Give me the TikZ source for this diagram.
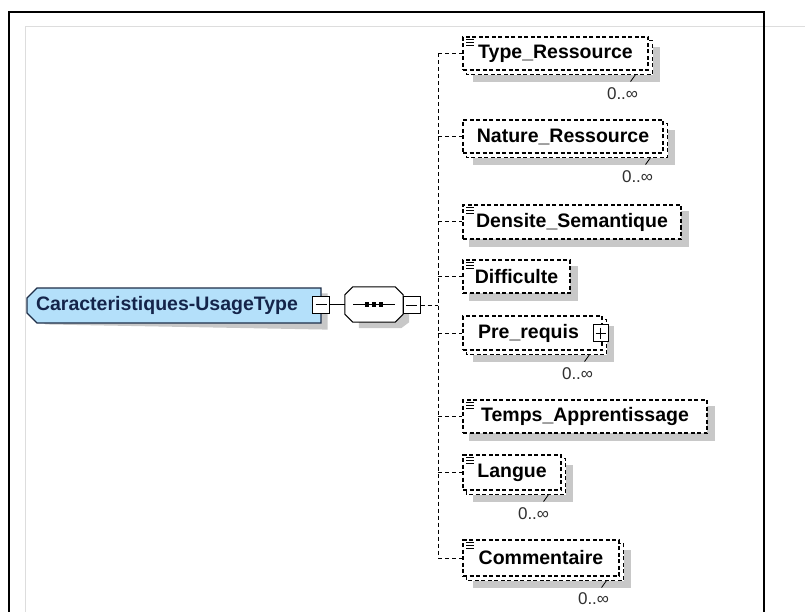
\documentclass[tikz,border=0pt]{standalone}
\usepackage{fontspec}
\setmainfont{Liberation Sans}
\usetikzlibrary{shapes.misc}
\pgfdeclarelayer{bg}
\pgfsetlayers{bg,main}
\definecolor{shadowgray}{HTML}{C8C8C8}
\definecolor{rootfill}{HTML}{B4E0FA}
\definecolor{rootline}{HTML}{1E2E48}
\definecolor{roottext}{HTML}{14244A}
\definecolor{framegray}{HTML}{DDDDDD}
\definecolor{occtext}{HTML}{303030}
\newcommand\xsdicon[1]{%
  \foreach \dd in {2.5,5.5,8.5}{\draw[line width=0.8pt] ([xshift=4pt,yshift=-\dd pt]#1.north west) -- ([xshift=12pt,yshift=-\dd pt]#1.north west);}}
\newcommand\xsdstack[1]{%
  \begin{pgfonlayer}{bg}
  \fill[shadowgray] ([xshift=11pt,yshift=-11pt]#1.north west) rectangle ([xshift=11pt,yshift=-11pt]#1.south east);
  \draw[backbox] ([xshift=4pt,yshift=-4pt]#1.north west) rectangle ([xshift=4pt,yshift=-4pt]#1.south east);
  \end{pgfonlayer}
  \draw[line width=0.8pt] ([xshift=-13pt,yshift=-4pt]#1.south east) -- ([xshift=-18pt,yshift=-11pt]#1.south east);}
\newcommand\xsdshadow[1]{%
  \begin{pgfonlayer}{bg}
  \fill[shadowgray] ([xshift=7pt,yshift=-7pt]#1.north west) rectangle ([xshift=7pt,yshift=-7pt]#1.south east);
  \end{pgfonlayer}}
\begin{document}
\begin{tikzpicture}[x=1pt,y=-1pt,
  elem/.style={draw=black, fill=white, line width=1.1pt, dash pattern=on 4pt off 2.5pt, inner sep=0pt, minimum height=33pt, font=\fontsize{19.5}{21}\selectfont\bfseries, text=black},
  backbox/.style={draw=black, fill=white, line width=1.1pt, dash pattern=on 4pt off 2.5pt},
  branch/.style={draw=black, line width=1pt, dash pattern=on 4pt off 3pt},
  occ/.style={font=\fontsize{17}{18}\selectfont, text=occtext, inner sep=0pt},
  ctrlbox/.style={draw=black, fill=white, line width=1pt, minimum width=17pt, minimum height=17pt, inner sep=0pt},
  minusmark/.style={path picture={\draw[line width=1pt] ([xshift=3pt]path picture bounding box.west) -- ([xshift=-3pt]path picture bounding box.east);}},
  plusmark/.style={path picture={\draw[line width=1pt] ([xshift=2.5pt]path picture bounding box.west) -- ([xshift=-2.5pt]path picture bounding box.east);
      \draw[line width=1pt] ([yshift=-3pt]path picture bounding box.north) -- ([yshift=3pt]path picture bounding box.south);}},
  root/.style={chamfered rectangle, chamfered rectangle corners={north west,south west}, chamfered rectangle xsep=5pt, chamfered rectangle ysep=5pt, draw=rootline, fill=rootfill, line width=1.2pt, minimum width=294pt, minimum height=35pt, inner sep=0pt, font=\fontsize{19.5}{21}\selectfont\bfseries, text=roottext},
  seqbox/.style={draw=none, minimum width=58pt, minimum height=35pt, inner sep=0pt}
]
\useasboundingbox (0,0) rectangle (805,612);
\begin{pgfonlayer}{bg}
\fill[white] (0,0) rectangle (805,612);
\end{pgfonlayer}
% frames
\draw[framegray, line width=0.8pt] (25,612) -- (25,26) -- (805,26);
\draw[black, line width=2.2pt] (9,612) -- (9,12) -- (764,12) -- (764,612);

% root
\node[root] (root) at (174,305.5) {Caracteristiques-UsageType\hspace*{14pt}};
\begin{pgfonlayer}{bg}
\fill[shadowgray] ([xshift=14pt,yshift=-6pt]root.north west) -- ([xshift=6pt,yshift=-6pt]root.north east) -- ([xshift=6pt,yshift=-6pt]root.south east) -- ([xshift=14pt,yshift=-6pt]root.south west) -- ([xshift=6pt,yshift=0pt]root.south west) -- cycle;
\end{pgfonlayer}
\node[ctrlbox, minusmark] (cb1) at (321,304.5) {};
\node[seqbox] (seq) at (374,304.5) {};
\begin{pgfonlayer}{bg}
\fill[shadowgray] ([xshift=14pt,yshift=-6pt]seq.north west) -- ([xshift=-2pt,yshift=-6pt]seq.north east) -- ([xshift=6pt,yshift=-14pt]seq.north east) -- ([xshift=6pt,yshift=0pt]seq.south east) -- ([xshift=-2pt,yshift=-6pt]seq.south east) -- ([xshift=14pt,yshift=-6pt]seq.south west) -- cycle;
\end{pgfonlayer}
\draw[line width=1pt, fill=white] ([xshift=8pt]seq.north west) -- ([xshift=-8pt]seq.north east) -- ([yshift=-8pt]seq.north east) -- ([yshift=8pt]seq.south east) -- ([xshift=-8pt]seq.south east) -- ([xshift=8pt]seq.south west) -- ([yshift=8pt]seq.south west) -- ([yshift=-8pt]seq.north west) -- cycle;
\draw[line width=1pt] ([xshift=-21pt]seq.center) -- ([xshift=21pt]seq.center);
\foreach \sx in {-7,0,7}{\fill ([xshift=\sx pt]seq.center) +(-2.4,-2.4) rectangle +(2.4,2.4);}
\node[ctrlbox, minusmark] (cb2) at (411.5,305) {};
\draw[line width=1pt] (cb1.east) -- (seq.west);
\coordinate (trunk) at (438,305);
\draw[branch] (cb2.east) -- (trunk);

% children
\node[elem, minimum width=185pt] (type) at (555.5,53.5) {Type\_Ressource};
\xsdstack{type}\xsdicon{type}
\node[elem, minimum width=200pt] (nature) at (563,136.5) {Nature\_Ressource};
\xsdstack{nature}
\node[elem, minimum width=218pt, minimum height=34pt] (dens) at (572,222) {Densite\_Semantique};
\xsdshadow{dens}\xsdicon{dens}
\node[elem, minimum width=107pt] (diff) at (516.5,276.5) {Difficulte};
\xsdshadow{diff}\xsdicon{diff}
\node[elem, minimum width=139pt, minimum height=34pt] (pre) at (532.5,333) {Pre\_requis\hspace*{8pt}};
\xsdstack{pre}
\node[ctrlbox, plusmark, minimum width=15pt] (preexp) at ([xshift=-2pt]pre.east) {};
\node[elem, minimum width=244pt] (temps) at (585,416.5) {Temps\_Apprentissage};
\xsdshadow{temps}\xsdicon{temps}
\node[elem, minimum width=98pt, minimum height=35pt] (langue) at (512,472.5) {Langue};
\xsdstack{langue}\xsdicon{langue}
\node[elem, minimum width=156pt, minimum height=36pt] (comm) at (541,558) {Commentaire};
\xsdstack{comm}\xsdicon{comm}

% occurrences
\node[occ] (typeocc) at ([xshift=-26pt,yshift=-23pt]type.south east) {0..∞};
\node[occ] (natureocc) at ([xshift=-26pt,yshift=-23pt]nature.south east) {0..∞};
\node[occ] (preocc) at ([xshift=-25pt,yshift=-23pt]pre.south east) {0..∞};
\node[occ] (langueocc) at ([xshift=-28pt,yshift=-23pt]langue.south east) {0..∞};
\node[occ] (commocc) at ([xshift=-26pt,yshift=-22pt]comm.south east) {0..∞};

% connectors
\draw[branch] (trunk |- type.west) -- (trunk |- comm.west);
\foreach \n in {type,nature,dens,diff,pre,temps,langue,comm}{\draw[branch] (trunk |- \n.west) -- (\n.west);}
\end{tikzpicture}
\end{document}
